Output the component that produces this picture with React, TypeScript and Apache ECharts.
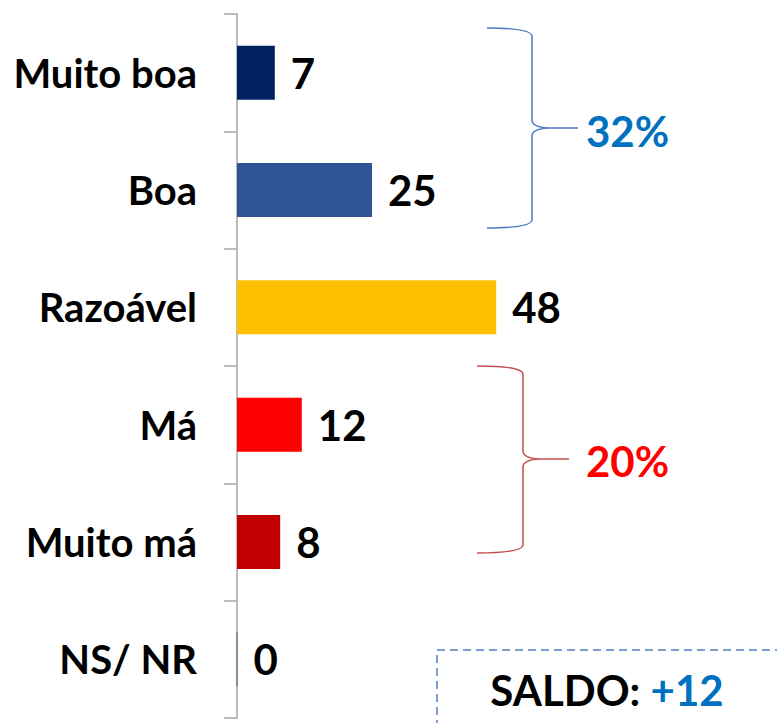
import React, { useEffect, useRef } from "react";
import * as echarts from "echarts";

const categories = ["Muito boa", "Boa", "Razoável", "Má", "Muito má", "NS/ NR"];
const values = [7, 25, 48, 12, 8, 0];
const barColors = ["#002060", "#2F5597", "#FFC000", "#FF0000", "#C00000", "#7F7F7F"];
const positiveTotal = "32%";
const negativeTotal = "20%";
const saldoLabel = "SALDO:";
const saldoValue = "+12";

const FONT = "Lato, 'Open Sans', sans-serif";

let registered = false;
function registerShapes() {
  if (registered) return;
  registered = true;
  echarts.graphic.registerShape(
    "braceBlue",
    echarts.graphic.extendPath(
      "M487,28 Q531,28 532,36 L532,120 Q532,127 548,128 L578,128 L548,128 Q532,129 532,136 L532,220 Q531,228 487,228",
      {}
    ) as any
  );
  echarts.graphic.registerShape(
    "braceRed",
    echarts.graphic.extendPath(
      "M477,366 Q522,366 523,374 L523,451 Q523,458 539,459 L569,459 L539,459 Q523,460 523,467 L523,545 Q522,553 477,553",
      {}
    ) as any
  );
}

export default function App() {
  const ref = useRef<HTMLDivElement>(null);
  useEffect(() => {
    if (!ref.current) return;
    registerShapes();
    const chart = echarts.init(ref.current, null, { renderer: "svg" });
    chart.setOption({
      animation: false,
      grid: { left: 237, right: 216, top: 14, bottom: 5, containLabel: false },
      xAxis: {
        type: "value",
        min: 0,
        max: 60,
        show: false,
      },
      yAxis: {
        type: "category",
        data: categories,
        inverse: true,
        axisLine: { show: true, lineStyle: { color: "#A6A6A6", width: 1.5 } },
        axisTick: { show: true, length: 13, lineStyle: { color: "#A6A6A6", width: 1.5 } },
        axisLabel: {
          margin: 40,
          fontFamily: FONT,
          fontWeight: "bold",
          fontSize: 40,
          color: "#000000",
        },
        splitLine: { show: false },
      },
      series: [
        {
          type: "bar",
          data: values.map((v, i) => ({
            value: v,
            itemStyle: {
              color: barColors[i],
              borderColor: v === 0 ? barColors[i] : undefined,
              borderWidth: v === 0 ? 1 : 0,
            },
          })),
          barWidth: 54,
          label: {
            show: true,
            position: "right",
            distance: 16,
            fontFamily: FONT,
            fontWeight: "bold",
            fontSize: 42,
            color: "#000000",
          },
        },
      ],
      graphic: [
        {
          type: "braceBlue",
          x: 0,
          y: 0,
          style: { fill: "none", stroke: "#4A7BC4", lineWidth: 1.5 },
        },
        {
          type: "braceRed",
          x: 0,
          y: 0,
          style: { fill: "none", stroke: "#C0504D", lineWidth: 1.5 },
        },
        {
          type: "text",
          x: 586,
          y: 131,
          style: {
            text: positiveTotal,
            fontFamily: FONT,
            fontWeight: "bold",
            fontSize: 42,
            fill: "#0070C0",
            verticalAlign: "middle",
            align: "left",
          },
        },
        {
          type: "text",
          x: 586,
          y: 461,
          style: {
            text: negativeTotal,
            fontFamily: FONT,
            fontWeight: "bold",
            fontSize: 42,
            fill: "#FF0000",
            verticalAlign: "middle",
            align: "left",
          },
        },
        {
          type: "rect",
          shape: { x: 437, y: 650, width: 400, height: 120 },
          style: { fill: "none", stroke: "#4F81BD", lineWidth: 1.5, lineDash: [8, 5] },
        },
        {
          type: "text",
          x: 607,
          y: 690,
          style: {
            text: `{a|${saldoLabel} }{b|${saldoValue}}`,
            align: "center",
            verticalAlign: "middle",
            rich: {
              a: { fontFamily: FONT, fontWeight: "bold", fontSize: 42, fill: "#000000", color: "#000000" },
              b: { fontFamily: FONT, fontWeight: "bold", fontSize: 42, fill: "#0070C0", color: "#0070C0" },
            },
          },
        },
      ],
    });
    return () => chart.dispose();
  }, []);
  return (
    <div
      ref={ref}
      style={{ position: "absolute", left: 0, top: 0, width: 777, height: 723 }}
    />
  );
}
